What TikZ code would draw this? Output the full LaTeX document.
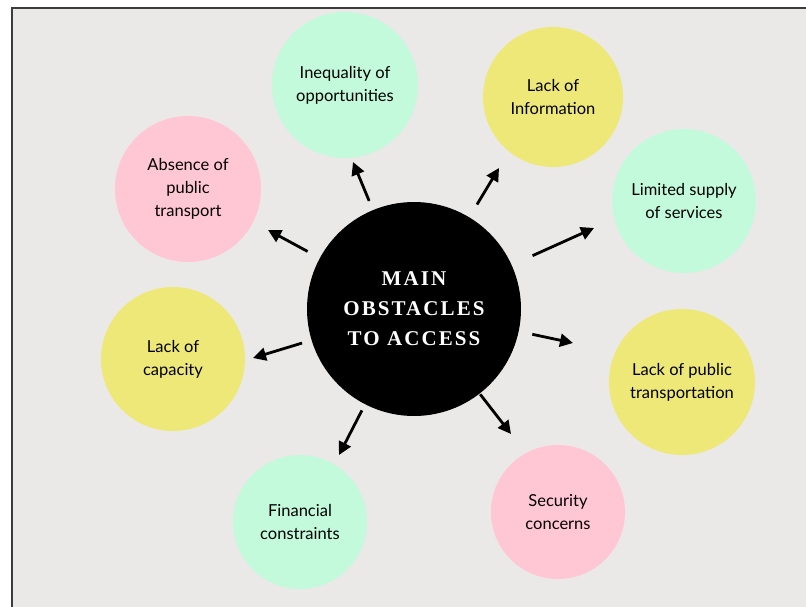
\documentclass[tikz,border=0pt]{standalone}
\usepackage{fontspec}
\newfontfamily\labelfont{Lato}
\newfontfamily\hubfont[LetterSpace=10]{Liberation Serif}
\usetikzlibrary{arrows.meta}
\definecolor{paper}{HTML}{EBE8E8}
\definecolor{framegray}{HTML}{3C3C3C}
\definecolor{mint}{HTML}{C2FADB}
\definecolor{rosy}{HTML}{FFC6D3}
\definecolor{lemon}{HTML}{EDE877}

\begin{document}
\begin{tikzpicture}[
  x=1pt, y=-1pt,
  >={Triangle[length=13pt,width=13pt]},
  bubble/.style={circle, inner sep=0pt, minimum size=#1, align=center,
    font=\labelfont\fontsize{16.5}{23}\selectfont, text=black},
  hubdisc/.style={circle, fill=black, inner sep=0pt, minimum size=214pt,
    align=center, text=white, font=\hubfont\bfseries\fontsize{21}{30}\selectfont},
  arr/.style={->, line width=2.8pt, shorten <=#1}
]
  % page and frame
  \useasboundingbox (0,0) rectangle (806,607);
  \clip (0,0) rectangle (806,607);
  \fill[white] (0,0) rectangle (806,607);
  \fill[paper] (12,8) rectangle (830,640);
  \draw[framegray, line width=2pt] (12,640) -- (12,8) -- (830,8);

  % centre
  \node[hubdisc] (hub) at (414,309) {MAIN\\OBSTACLES\\TO ACCESS};

  % satellites
  \node[bubble=146pt, fill=mint]  (ineq)  at (345,85)  {Inequality of\\opportunities};
  \node[bubble=140pt, fill=lemon] (info)  at (553,97)  {Lack of\\Information};
  \node[bubble=144pt, fill=mint]  (supply) at (684,201) {Limited supply\\of services};
  \node[bubble=146pt, fill=lemon] (transp) at (682,382) {Lack of public\\transportation};
  \node[bubble=134pt, fill=rosy]  (secur) at (558,512) {Security\\concerns};
  \node[bubble=134pt, fill=mint]  (money) at (300,522) {Financial\\constraints};
  \node[bubble=144pt, fill=lemon] (capac) at (173,359) {Lack of\\capacity};
  \node[bubble=146pt, fill=rosy]  (absent) at (188,189) {Absence of\\public\\transport};

  % arrow tips
  \coordinate (t-ineq)   at (353,162);
  \coordinate (t-info)   at (499,168);
  \coordinate (t-supply) at (594,228);
  \coordinate (t-transp) at (573,343);
  \coordinate (t-secur)  at (511,434);
  \coordinate (t-money)  at (339,455);
  \coordinate (t-capac)  at (253,358);
  \coordinate (t-absent) at (268,230);

  % arrows
  \draw[arr=117pt] (hub.center) -- (t-ineq);
  \draw[arr=122pt] (hub.center) -- (t-info);
  \draw[arr=130pt] (hub.center) -- (t-supply);
  \draw[arr=121pt] (hub.center) -- (t-transp);
  \draw[arr=108pt] (hub.center) -- (t-secur);
  \draw[arr=114pt] (hub.center) -- (t-money);
  \draw[arr=117pt] (hub.center) -- (t-capac);
  \draw[arr=121pt] (hub.center) -- (t-absent);
\end{tikzpicture}
\end{document}
